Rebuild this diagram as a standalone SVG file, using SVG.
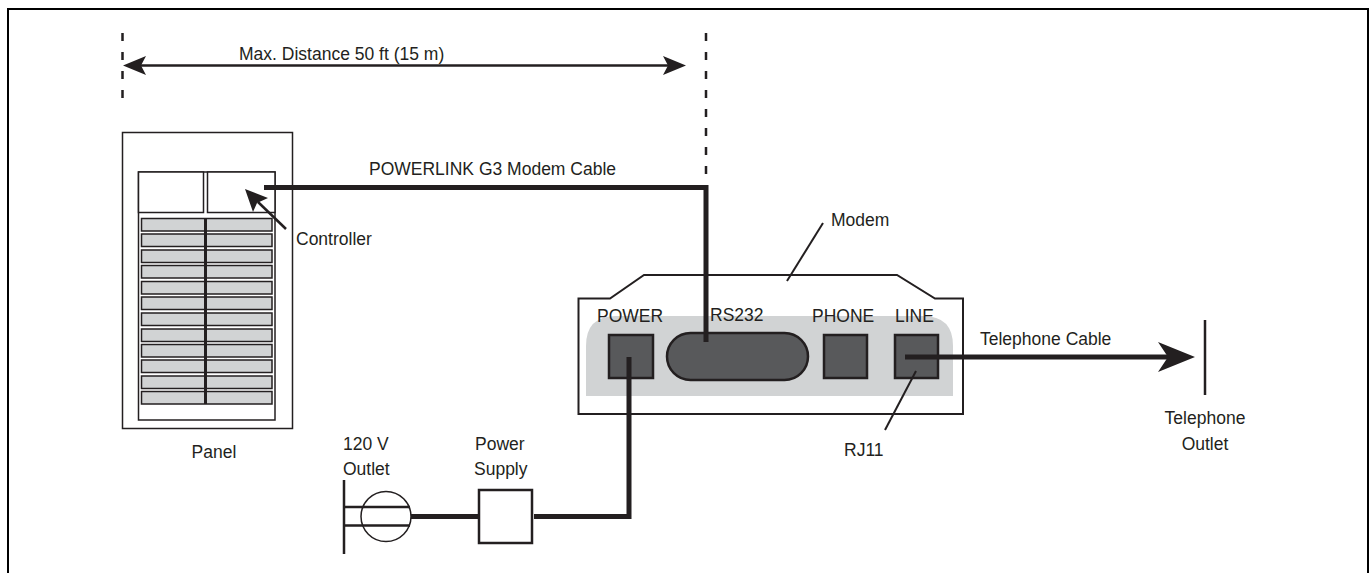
<svg xmlns="http://www.w3.org/2000/svg" width="1369" height="573" viewBox="0 0 1369 573">
<style>
text{font-family:"Liberation Sans",Arial,sans-serif;font-size:17.5px;fill:#231f20}
.m{text-anchor:middle}
.o{fill:#fff;stroke:#231f20;stroke-width:1.5}
.o2{fill:#fff;stroke:#231f20;stroke-width:2.5}
.b{fill:#d1d3d4;stroke:#231f20;stroke-width:1.5}
.p{fill:#58595b;stroke:#231f20;stroke-width:2.5}
.c{fill:none;stroke:#231f20;stroke-width:5}
.t{fill:none;stroke:#231f20;stroke-width:2.5}
.d{fill:none;stroke:#231f20;stroke-width:2.5;stroke-dasharray:8 11}
.h{fill:#231f20;stroke:none}
</style>
<rect width="1369" height="573" fill="#fff"/>
<path d="M8 573V9H1368V573" fill="none" stroke="#000" stroke-width="2"/>
<g id="panel">
<rect class="o" x="122.5" y="132.500" width="170" height="296"/>
<rect class="o" x="138.500" y="172" width="136.500" height="248"/>
<rect class="o" x="138.500" y="172" width="65" height="40.500"/>
<rect class="o" x="207.500" y="172" width="67.500" height="40.500"/>
<g>
<rect class="b" x="141.500" y="218.500" width="130.500" height="12.500"/>
<rect class="b" x="141.500" y="234" width="130.500" height="12.500"/>
<rect class="b" x="141.500" y="250" width="130.500" height="12.500"/>
<rect class="b" x="141.500" y="265.500" width="130.500" height="12.500"/>
<rect class="b" x="141.500" y="281.500" width="130.500" height="12.500"/>
<rect class="b" x="141.500" y="297" width="130.500" height="12.500"/>
<rect class="b" x="141.500" y="313" width="130.500" height="12.500"/>
<rect class="b" x="141.500" y="329" width="130.500" height="12.500"/>
<rect class="b" x="141.500" y="344.500" width="130.500" height="12.500"/>
<rect class="b" x="141.500" y="360" width="130.500" height="12.500"/>
<rect class="b" x="141.500" y="376" width="130.500" height="12.500"/>
<rect class="b" x="141.500" y="391.500" width="130.500" height="12.500"/>
</g>
<path d="M205.500 218V404" class="t" style="stroke-width:3"/>
<text class="m" x="214" y="458">Panel</text>
</g>
<g id="controller-label">
<path d="M286 229L258 202" class="t"/>
<path class="h" d="M245 189L268 198L257 203L253 212Z"/>
<text x="296" y="245">Controller</text>
</g>
<g id="distance">
<path class="d" d="M122.500 33V100"/>
<path class="d" d="M706 33V175"/>
<path class="t" d="M135 65.500H674"/>
<path class="h" d="M123 65.500L146 56L141 65.500L146 75Z"/>
<path class="h" d="M686 65.500L663 56L668 65.500L663 75Z"/>
<text x="239" y="60">Max. Distance 50 ft (15 m)</text>
</g>
<g id="modem">
<path class="o2" d="M578.500 298.500H610L644 275H897L935 298.500H963V414H578.500Z" style="stroke-width:2"/>
<path d="M586 396V346Q586 316 616 316H923Q953 316 953 346V396Z" fill="#d1d3d4"/>
<rect class="p" x="609" y="335" width="44" height="43"/>
<rect class="p" x="667" y="333" width="141" height="47" rx="23.500"/>
<rect class="p" x="824" y="335" width="43" height="43"/>
<rect class="p" x="895" y="335" width="43" height="43"/>
<text x="597" y="322">POWER</text>
<text x="710" y="321">RS232</text>
<text x="812" y="322">PHONE</text>
<text x="895" y="322">LINE</text>
<path class="t" d="M787 281L823 223" style="stroke-width:2"/>
<text x="831" y="226">Modem</text>
<path class="t" d="M916 371L885 430" style="stroke-width:2"/>
<text x="844" y="456">RJ11</text>
</g>
<g id="outlet-120v">
<path class="t" d="M344 480V554M344 507H410M344 525.500H410"/>
<circle cx="386" cy="516.500" r="25" fill="none" stroke="#231f20" stroke-width="1.500"/>
<text x="343" y="450">120 V</text>
<text x="343" y="475">Outlet</text>
</g>
<g id="power-supply">
<rect class="o2" x="479" y="490" width="53" height="53"/>
<text x="475" y="450">Power</text>
<text x="474" y="475">Supply</text>
</g>
<g id="telephone-outlet">
<path class="t" d="M1205 320V395"/>
<text class="m" x="1205" y="424">Telephone</text>
<text class="m" x="1205" y="450">Outlet</text>
</g>
<g id="connectors">
<path class="c" d="M264 187.500H706V342"/>
<text x="369" y="175">POWERLINK G3  Modem Cable</text>
<path class="c" d="M629 357V516.500H534"/>
<path class="c" d="M411 516.500H479"/>
<path class="c" d="M905 357H1172"/>
<path class="h" d="M1195 357L1158 342L1168 357L1158 372Z"/>
<text x="980" y="345">Telephone Cable</text>
</g>
</svg>
